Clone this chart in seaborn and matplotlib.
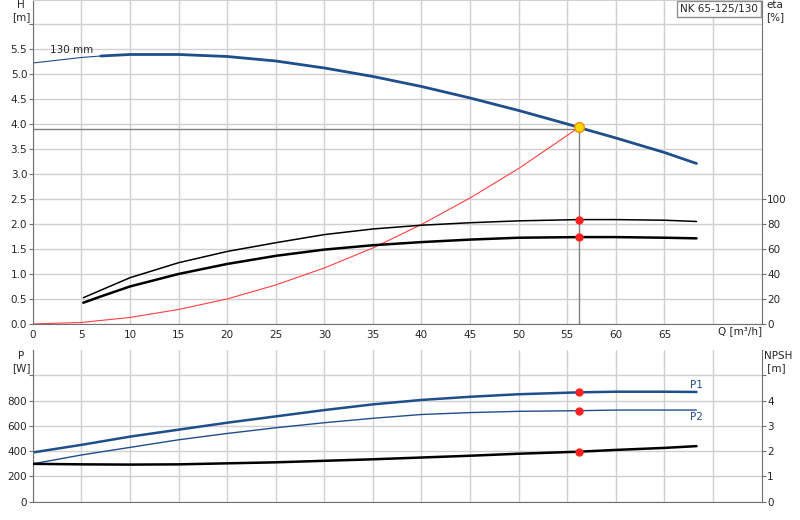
import matplotlib
matplotlib.use('Agg')
import matplotlib.pyplot as plt
import seaborn as sns

sns.set_style('white')
plt.rcParams['font.family'] = ['DejaVu Sans']
plt.rcParams['font.size'] = 7.5

# ---- data ----
q_h = [0, 5, 7, 10, 15, 20, 25, 30, 35, 40, 45, 50, 55, 56.2, 60, 65, 68.3]
head = [5.22, 5.33, 5.36, 5.39, 5.39, 5.35, 5.26, 5.12, 4.95, 4.75, 4.52, 4.27, 4.0, 3.93, 3.72, 3.43, 3.21]

q_eta = [5.2, 7, 10, 15, 20, 25, 30, 35, 40, 45, 50, 56.2, 60, 65, 68.3]
eta_pump = [21, 27, 37, 49, 58, 65, 71.5, 76, 79, 81, 82.5, 83.5, 83.5, 83, 82]
eta_total = [17, 22, 30, 40, 48, 54.5, 59.5, 63, 65.5, 67.5, 69, 69.5, 69.5, 69, 68.5]

q_sys = [0, 5, 10, 15, 20, 25, 30, 35, 40, 45, 50, 56.2]
h_sys = [0, 0.03, 0.13, 0.29, 0.5, 0.78, 1.12, 1.52, 1.99, 2.52, 3.11, 3.93]

q_p = [0, 5, 10, 15, 20, 25, 30, 35, 40, 45, 50, 56.2, 60, 65, 68.3]
p1 = [390, 450, 515, 570, 625, 675, 725, 770, 805, 830, 850, 865, 870, 870, 868]
p2 = [300, 370, 430, 490, 540, 585, 625, 660, 690, 705, 715, 720, 725, 725, 725]
npsh = [1.5, 1.48, 1.47, 1.48, 1.52, 1.56, 1.62, 1.68, 1.75, 1.82, 1.9, 1.98, 2.05, 2.13, 2.2]

q_op = 56.2
h_op = 3.93

blue = '#1f4e8c'
grid_c = '#d0d0d0'

fig = plt.figure(figsize=(8, 5.2), dpi=100)
ax = fig.add_axes([0.041, 0.377, 0.911, 0.623])
axb = fig.add_axes([0.041, 0.035, 0.911, 0.292])

for a in (ax, axb):
    a.set_xlim(0, 75)
    a.set_xticks(range(0, 75, 5))
    a.grid(True, color=grid_c, lw=1)
    a.set_axisbelow(True)
    a.spines['top'].set_visible(False)
    for s in ('left', 'bottom', 'right'):
        a.spines[s].set_color('#707070')
    a.tick_params(length=3, color='#707070', pad=1)

# ---- top: head / efficiency ----
ax.set_ylim(0, 6.48)
ax.set_yticks([i * 0.5 for i in range(13)])
ax.set_yticklabels([f'{i * 0.5:.1f}' if i < 12 else '' for i in range(13)])
ax.set_xticklabels([str(v) if v < 70 else '' for v in range(0, 75, 5)])
ax.spines['top'].set_visible(True)
ax.spines['top'].set_color('#d0d0d0')

ax.plot(q_h[:3], head[:3], color=blue, lw=0.8)
sns.lineplot(x=q_h[2:], y=head[2:], ax=ax, color=blue, lw=2, sort=False)
sns.lineplot(x=q_sys, y=h_sys, ax=ax, color='#ff4040', lw=0.8, sort=False)
ax.plot([0, q_op], [3.9, 3.9], color='#808080', lw=1)
ax.plot([q_op, q_op], [0, h_op], color='#808080', lw=1)
ax.plot(q_op, h_op, 'o', ms=7, mfc='#ffd700', mec='#ff8c00', mew=1, zorder=5)
ax.text(1.8, 5.42, '130 mm', fontsize=7.5)
ax.text(-1.2, 6.48, 'H\n[m]', ha='center', va='top', fontsize=7.5)
ax.text(70.5, -0.04, 'Q [m³/h]', ha='left', va='top', fontsize=7.5)
ax.text(74.6, 6.4, 'NK 65-125/130', ha='right', va='top', fontsize=7.5,
        bbox=dict(boxstyle='square,pad=0.3', fc='white', ec='#909090'))

ax2 = ax.twinx()
ax2.set_ylim(0, 6.48 * 40)
ax2.set_yticks(range(0, 120, 20))
ax2.tick_params(length=3, color='#707070', pad=1)
for s in ax2.spines.values():
    s.set_visible(False)
sns.lineplot(x=q_eta, y=eta_pump, ax=ax2, color='black', lw=1.1, sort=False)
sns.lineplot(x=q_eta, y=eta_total, ax=ax2, color='black', lw=1.8, sort=False)
ax2.plot([q_op, q_op], [83.5, 69.5], 'o', ms=5, color='#ff2020', ls='none', zorder=5)
ax2.text(75.5, 6.48 * 40, 'eta\n[%]', ha='left', va='top', fontsize=7.5)

# ---- bottom: power / NPSH ----
axb.set_ylim(0, 1200)
axb.set_yticks(range(0, 1200, 200))
axb.set_yticklabels(['0', '200', '400', '600', '800', ''])
axb.set_xticklabels([])
axb.tick_params(axis='x', length=0)
sns.lineplot(x=q_p, y=p1, ax=axb, color=blue, lw=1.8, sort=False)
sns.lineplot(x=q_p, y=p2, ax=axb, color=blue, lw=1.0, sort=False)
axb.plot([q_op, q_op], [865, 720], 'o', ms=5, color='#ff2020', ls='none', zorder=5)
axb.text(68.3, 880, 'P1', color=blue, ha='center', va='bottom', fontsize=7.5)
axb.text(68.3, 710, 'P2', color=blue, ha='center', va='top', fontsize=7.5)
axb.text(-1.2, 1190, 'P\n[W]', ha='center', va='top', fontsize=7.5)

axn = axb.twinx()
axn.set_ylim(0, 6)
axn.set_yticks(range(0, 6))
axn.set_yticklabels(['0', '1', '2', '3', '4', ''])
axn.tick_params(length=3, color='#707070', pad=1)
for s in axn.spines.values():
    s.set_visible(False)
sns.lineplot(x=q_p, y=npsh, ax=axn, color='black', lw=1.8, sort=False)
axn.plot(q_op, 1.98, 'o', ms=5, color='#ff2020', zorder=5)
axn.text(75.2, 5.95, 'NPSH\n [m]', ha='left', va='top', fontsize=7.5)

fig.savefig('out.png', dpi=100)
